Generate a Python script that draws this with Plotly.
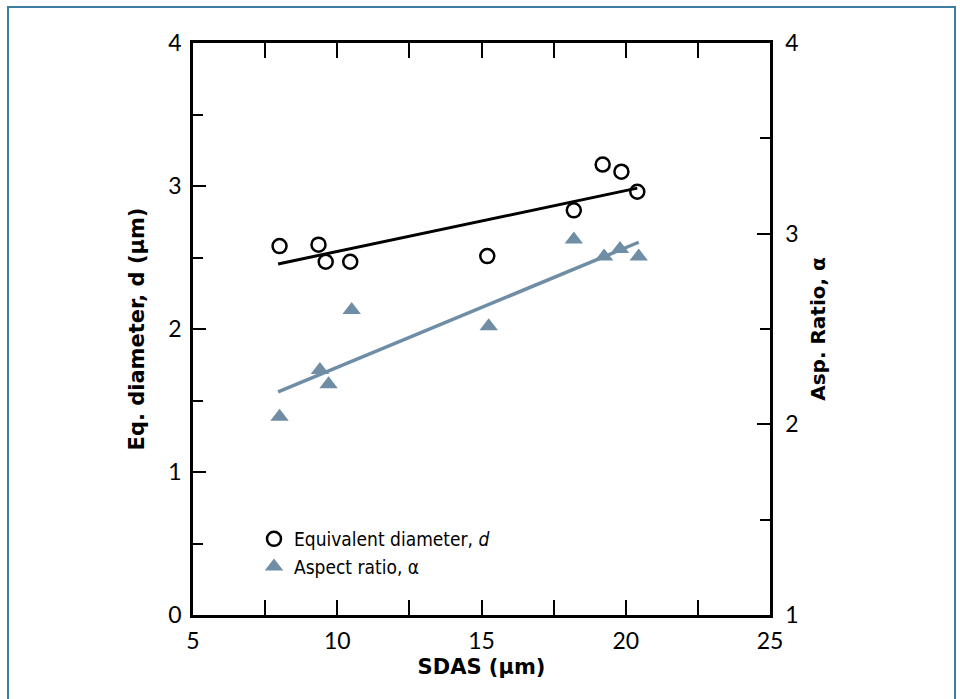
import plotly.graph_objects as go

# Data
sdas_d = [8.0, 9.35, 9.6, 10.45, 15.2, 18.2, 19.2, 19.85, 20.4]
eq_diam = [2.58, 2.59, 2.47, 2.47, 2.51, 2.83, 3.15, 3.10, 2.96]

sdas_a = [8.0, 9.4, 9.7, 10.5, 15.25, 18.2, 19.25, 19.8, 20.45]
aspect = [2.04, 2.285, 2.21, 2.60, 2.515, 2.97, 2.88, 2.92, 2.88]

fit_x_d = [7.95, 20.4]
fit_y_d = [2.455, 2.985]
fit_x_a = [7.95, 20.45]
fit_y_a = [2.17, 2.955]

left_ticks = [0, 0.5, 1, 1.5, 2, 2.5, 3, 3.5, 4]
right_ticks = [1, 1.5, 2, 2.5, 3, 3.5, 4]
x_ticks = [5, 10, 15, 20, 25]

BLUE = "#6f8ea5"
FONT = "Lato"
TITLE_FONT = "DejaVu Sans"
LEG_FONT = "DejaVu Sans Condensed, Roboto, sans-serif"

fig = go.Figure()
fig.add_trace(go.Scatter(x=fit_x_d, y=fit_y_d, mode="lines",
                         line=dict(color="black", width=3), showlegend=False,
                         hoverinfo="skip"))
fig.add_trace(go.Scatter(x=fit_x_a, y=fit_y_a, mode="lines", yaxis="y2",
                         line=dict(color=BLUE, width=3.5), showlegend=False,
                         hoverinfo="skip"))
fig.add_trace(go.Scatter(x=sdas_d, y=eq_diam, mode="markers",
                         name="Equivalent diameter, <i>d</i>",
                         marker=dict(symbol="circle-open", size=14, color="black",
                                     line=dict(width=2.5, color="black"))))
fig.add_trace(go.Scatter(x=sdas_a, y=aspect, mode="markers", yaxis="y2",
                         name="Aspect ratio, α",
                         marker=dict(symbol="triangle-up", size=16, color=BLUE,
                                     line=dict(width=0))))

L, R, T, B = 193, 190, 43, 84
W, H = 960, 699
pw, ph = W - L - R, H - T - B

def px_x(p):
    return (p - L) / pw

def px_y(p):
    return (H - B - p) / ph

# Blue frame around the figure (open at bottom)
frame = dict(type="path", xref="paper", yref="paper",
             path=f"M {px_x(8)} {px_y(700)} L {px_x(8)} {px_y(7)} L {px_x(955)} {px_y(7)} L {px_x(955)} {px_y(700)}",
             line=dict(color="#3f7ca3", width=2))

fig.update_layout(
    width=W, height=H,
    margin=dict(l=L, r=R, t=T, b=B, autoexpand=False),
    paper_bgcolor="white", plot_bgcolor="white",
    font=dict(family=FONT, size=23, color="black"),
    shapes=[frame],
    xaxis=dict(range=[5, 25], tickvals=x_ticks, ticks="inside", ticklen=15,
               tickwidth=2, tickcolor="black", showline=True, linewidth=2.5,
               linecolor="black", mirror="allticks", showgrid=False, zeroline=False,
               minor=dict(dtick=2.5, ticks="inside", ticklen=11, tickwidth=2,
                          tickcolor="black", showgrid=False),
               tickfont=dict(size=23), ticklabelstandoff=4,
               title=dict(text="<b>SDAS (μm)</b>", font=dict(size=21, family=TITLE_FONT),
                          standoff=6)),
    yaxis=dict(range=[0, 4], tickvals=[0, 1, 2, 3, 4], ticks="inside", ticklen=13,
               tickwidth=2, tickcolor="black", showline=True, linewidth=2.5,
               linecolor="black", showgrid=False, zeroline=False,
               minor=dict(tickvals=left_ticks, ticks="inside", ticklen=10, tickwidth=2,
                          tickcolor="black", showgrid=False),
               tickfont=dict(size=23), ticklabelstandoff=4,
               title=dict(text="<b>Eq. diameter, d (μm)</b>",
                          font=dict(size=21, family=TITLE_FONT), standoff=18)),
    yaxis2=dict(range=[1, 4], tickvals=[1, 2, 3, 4], overlaying="y", side="right",
                ticks="inside", ticklen=13, tickwidth=2, tickcolor="black",
                showline=True, linewidth=2.5, linecolor="black", showgrid=False,
                zeroline=False,
                minor=dict(tickvals=right_ticks, ticks="inside", ticklen=10, tickwidth=2,
                           tickcolor="black", showgrid=False),
                tickfont=dict(size=23), ticklabelstandoff=8,
                title=dict(text="<b>Asp. Ratio, α</b>",
                           font=dict(size=20, family=TITLE_FONT), standoff=14)),
    legend=dict(x=px_x(254), y=px_y(520), xanchor="left", yanchor="top",
                bgcolor="rgba(0,0,0,0)", font=dict(size=19, family=LEG_FONT),
                itemwidth=30, tracegroupgap=0),
)

fig.write_html("out.html", config={"displayModeBar": False},
               post_script="document.body.style.margin='0';")
